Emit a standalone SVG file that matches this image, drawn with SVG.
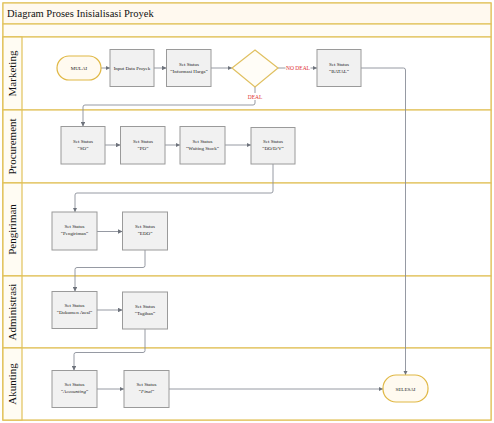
<svg xmlns="http://www.w3.org/2000/svg" width="494" height="423" viewBox="0 0 494 423">
<style>
.lane{fill:#ffffff;stroke:#e2c25a;stroke-width:1.2}
.lab{fill:#fffcf3;stroke:#e2c25a;stroke-width:1.2}
.lt{font-family:"Liberation Serif",serif;font-size:11px;fill:#111;text-anchor:middle}
.box{fill:#f1f1f1;stroke:#9a9a9a;stroke-width:1}
.term{fill:#fffaf0;stroke:#e0b845;stroke-width:1.2}
.t{font-family:"Liberation Serif",serif;font-size:5px;fill:#222;text-anchor:middle}
.c{fill:none;stroke:#8a8f98;stroke-width:0.9}
.red{font-family:"Liberation Serif",serif;font-size:5.5px;fill:#e03030;text-anchor:middle}
.ttl{font-family:"Liberation Serif",serif;font-size:10.5px;fill:#111}
</style>
<defs>
<marker id="ah" viewBox="0 0 6 6" refX="6" refY="3" markerWidth="5" markerHeight="5" orient="auto"><path d="M0,0L6,3L0,6z" fill="#6e737c"/></marker>
</defs>
<rect x="3" y="3" width="488" height="417" fill="#ffffff" stroke="#e2c25a" stroke-width="1.2"/>
<g id="title">
<rect x="3" y="3" width="488" height="21" fill="#fff9ef" stroke="#e2c25a" stroke-width="1.2"/>
<text class="ttl" x="7" y="17">Diagram Proses Inisialisasi Proyek</text>
<rect x="3" y="24" width="488" height="13" fill="#fffcf5" stroke="#e2c25a" stroke-width="1.2"/>
</g>
<g id="lanes">
<rect class="lane" x="3" y="37" width="488" height="73"/>
<rect class="lab" x="3" y="37" width="19" height="73"/>
<text class="lt" transform="translate(16,73.5) rotate(-90)">Marketing</text>
<rect class="lane" x="3" y="110" width="488" height="73"/>
<rect class="lab" x="3" y="110" width="19" height="73"/>
<text class="lt" transform="translate(16,146.5) rotate(-90)">Procurement</text>
<rect class="lane" x="3" y="183" width="488" height="93"/>
<rect class="lab" x="3" y="183" width="19" height="93"/>
<text class="lt" transform="translate(16,229.5) rotate(-90)">Pengiriman</text>
<rect class="lane" x="3" y="276" width="488" height="72"/>
<rect class="lab" x="3" y="276" width="19" height="72"/>
<text class="lt" transform="translate(16,312) rotate(-90)">Administrasi</text>
<rect class="lane" x="3" y="348" width="488" height="72"/>
<rect class="lab" x="3" y="348" width="19" height="72"/>
<text class="lt" transform="translate(16,384) rotate(-90)">Akunting</text>
</g>
<g id="connectors">
<path class="c" d="M101,68H110" marker-end="url(#ah)"/>
<path class="c" d="M154,68H166.5" marker-end="url(#ah)"/>
<path class="c" d="M211,68H232" marker-end="url(#ah)"/>
<path class="c" d="M278,68H285.5M310.5,68H317" marker-end="url(#ah)"/>
<path class="c" d="M255,87V93M255,100V103Q255,105 253,105H85Q83,105 83,107V126.5" marker-end="url(#ah)"/>
<path class="c" d="M361,68H403.5Q405.5,68 405.5,70V375" marker-end="url(#ah)"/>
<path class="c" d="M105,145H120.5" marker-end="url(#ah)"/>
<path class="c" d="M165,145H180" marker-end="url(#ah)"/>
<path class="c" d="M225,145H251" marker-end="url(#ah)"/>
<path class="c" d="M273,164V191Q273,193 271,193H77Q75,193 75,195V212" marker-end="url(#ah)"/>
<path class="c" d="M97,231.5H122.5" marker-end="url(#ah)"/>
<path class="c" d="M145,250V265.5Q145,267.5 143,267.5H77Q75,267.5 75,269.5V291.5" marker-end="url(#ah)"/>
<path class="c" d="M97,310H122.5" marker-end="url(#ah)"/>
<path class="c" d="M145,329V350.5Q145,352.5 143,352.5H76Q74,352.5 74,354.5V370.5" marker-end="url(#ah)"/>
<path class="c" d="M97,389H124" marker-end="url(#ah)"/>
<path class="c" d="M169,389H383" marker-end="url(#ah)"/>
</g>
<g id="labels">
<text class="red" x="298" y="70">NO DEAL</text>
<text class="red" x="255" y="99">DEAL</text>
</g>
<g id="mulai"><rect class="term" x="57" y="56" width="44" height="24" rx="12"/><text class="t" x="79" y="70">MULAI</text></g>
<g id="input"><rect class="box" x="110" y="49.5" width="44" height="37"/><text class="t" x="132" y="70">Input Data Proyek</text></g>
<g id="harga"><rect class="box" x="166.5" y="49.5" width="44.5" height="37"/><text class="t" x="189" y="66">Set Status</text><text class="t" x="189" y="73">“Informasi Harga”</text></g>
<g id="decision"><path d="M255,50L278,68L255,87L232,68Z" fill="#fffdf7" stroke="#e0c060" stroke-width="1.2"/></g>
<g id="batal"><rect class="box" x="317" y="49.5" width="44" height="37"/><text class="t" x="339" y="66">Set Status</text><text class="t" x="339" y="73">“BATAL”</text></g>
<g id="so"><rect class="box" x="61" y="126.5" width="44" height="37.5"/><text class="t" x="83" y="143">Set Status</text><text class="t" x="83" y="150">“SO”</text></g>
<g id="po"><rect class="box" x="120.5" y="126.5" width="44.5" height="37.5"/><text class="t" x="143" y="143">Set Status</text><text class="t" x="143" y="150">“PO”</text></g>
<g id="waiting"><rect class="box" x="180" y="126.5" width="45" height="37.5"/><text class="t" x="202.5" y="143">Set Status</text><text class="t" x="202.5" y="150">“Waiting Stock”</text></g>
<g id="dodv"><rect class="box" x="251" y="127.5" width="44" height="36.5"/><text class="t" x="273" y="143">Set Status</text><text class="t" x="273" y="150">“DO/D/V”</text></g>
<g id="pengiriman"><rect class="box" x="52" y="212" width="45" height="38"/><text class="t" x="74.5" y="228">Set Status</text><text class="t" x="74.5" y="235">“Pengiriman”</text></g>
<g id="edo"><rect class="box" x="122.5" y="212" width="45" height="38"/><text class="t" x="145" y="228">Set Status</text><text class="t" x="145" y="235">“EDO”</text></g>
<g id="dokumen"><rect class="box" x="52" y="291.5" width="45" height="37"/><text class="t" x="74.5" y="307">Set Status</text><text class="t" x="74.5" y="314">“Dokumen Awal”</text></g>
<g id="tagihan"><rect class="box" x="122.5" y="292" width="45" height="37"/><text class="t" x="145" y="308">Set Status</text><text class="t" x="145" y="315">“Tagihan”</text></g>
<g id="accounting"><rect class="box" x="52" y="370.5" width="45" height="37"/><text class="t" x="74.5" y="386">Set Status</text><text class="t" x="74.5" y="393">“<tspan font-style="italic">Accounting</tspan>”</text></g>
<g id="final"><rect class="box" x="124" y="370.5" width="45" height="37"/><text class="t" x="146.5" y="386">Set Status</text><text class="t" x="146.5" y="393">“<tspan font-style="italic">Final</tspan>”</text></g>
<g id="selesai"><rect class="term" x="383" y="375" width="45" height="27" rx="13"/><text class="t" x="405.5" y="390.5">SELESAI</text></g>
</svg>
